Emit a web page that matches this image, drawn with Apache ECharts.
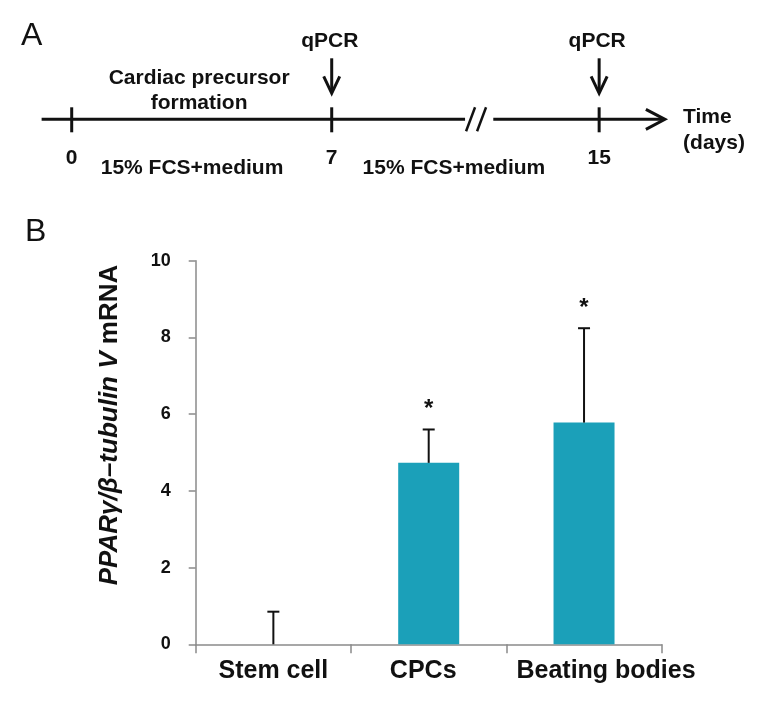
<!DOCTYPE html>
<html>
<head>
<meta charset="utf-8">
<script src="https://cdn.jsdelivr.net/npm/echarts@6/dist/echarts.min.js"></script>
<style>
html,body{margin:0;padding:0;background:#fff;}
#chart{width:771px;height:718px;}
</style>
</head>
<body>
<div id="chart"></div>
<script>
// ---- Panel B data ----
const categories = ['Stem cell', 'CPCs', 'Beating bodies'];
const means = [0, 4.73, 5.78];
const errors = [0.85, 0.87, 2.46];
const significance = ['', '*', '*'];
const yMin = 0, yMax = 10, yInterval = 2;

// ---- Panel A (timeline schematic) data ----
const timeLabels = ['0', '7', '15'];
const timePositions = [0, 7, 14.2];      // schematic position on the (broken) time axis
const qpcrMarks = [false, true, true];
const phaseTopLabels = ['Cardiac precursor\nformation'];
const phaseBottomLabels = ['15% FCS+medium', '15% FCS+medium'];

const FONT = 'Liberation Sans, Arial, sans-serif';
const chart = echarts.init(document.getElementById('chart'), null, {renderer: 'canvas'});

// label shifts (style only) for the category labels, as in the original figure
const labelPadding = [[0, 0, 0, 0], [0, 11, 0, 0], [0, 0, 0, 44]];

function timelineRender(params, api) {
  const y0 = api.coord([0, 0])[1];
  const X = v => api.coord([v, 0])[0];
  const lw = 3;
  const black = '#111';
  const F = 'bold 21px ' + FONT;
  const children = [];
  const start = X(-0.81), brk1 = X(10.59), brk2 = X(11.35), tip = X(15.97);
  children.push({type:'line', shape:{x1:start, y1:y0, x2:brk1, y2:y0}, style:{stroke:black, lineWidth:lw}});
  children.push({type:'line', shape:{x1:brk2, y1:y0, x2:tip - 2, y2:y0}, style:{stroke:black, lineWidth:lw}});
  children.push({type:'line', shape:{x1:brk1 + 1, y1:y0 + 12, x2:brk1 + 10, y2:y0 - 12}, style:{stroke:black, lineWidth:2.5}});
  children.push({type:'line', shape:{x1:brk1 + 12, y1:y0 + 12, x2:brk1 + 21, y2:y0 - 12}, style:{stroke:black, lineWidth:2.5}});
  children.push({type:'polyline', shape:{points:[[tip - 19, y0 - 10], [tip, y0], [tip - 19, y0 + 10]]}, style:{stroke:black, lineWidth:lw, fill:null}});
  for (let i = 0; i < timePositions.length; i++) {
    const x = X(timePositions[i]);
    children.push({type:'line', shape:{x1:x, y1:y0 - 12, x2:x, y2:y0 + 13}, style:{stroke:black, lineWidth:lw}});
    children.push({type:'text', x:x, y:y0 + 39, style:{text:timeLabels[i], font:F, fill:black, align:'center', verticalAlign:'middle'}});
    if (qpcrMarks[i]) {
      children.push({type:'text', x:x - 2, y:y0 - 78, style:{text:'qPCR', font:F, fill:black, align:'center', verticalAlign:'middle'}});
      children.push({type:'line', shape:{x1:x, y1:y0 - 61, x2:x, y2:y0 - 27}, style:{stroke:black, lineWidth:lw}});
      children.push({type:'polyline', shape:{points:[[x - 8, y0 - 43], [x, y0 - 26], [x + 8, y0 - 43]]}, style:{stroke:black, lineWidth:lw, fill:null}});
    }
  }
  children.push({type:'text', x:X(3.43), y:y0 - 29, style:{text:phaseTopLabels[0], font:F, lineHeight:25, fill:black, align:'center', verticalAlign:'middle'}});
  children.push({type:'text', x:X(3.24), y:y0 + 49, style:{text:phaseBottomLabels[0], font:F, fill:black, align:'center', verticalAlign:'middle'}});
  children.push({type:'text', x:X(10.29), y:y0 + 49, style:{text:phaseBottomLabels[1], font:F, fill:black, align:'center', verticalAlign:'middle'}});
  children.push({type:'text', x:X(16.46), y:y0 - 2, style:{text:'Time', font:F, fill:black, align:'left', verticalAlign:'middle'}});
  children.push({type:'text', x:X(16.46), y:y0 + 24, style:{text:'(days)', font:F, fill:black, align:'left', verticalAlign:'middle'}});
  return {type:'group', children};
}

function errorRender(params, api) {
  const i = api.value(0);
  const m = api.value(1);
  const e = api.value(2);
  const base = api.coord([i, m]);
  const top = api.coord([i, m + e]);
  const sig = significance[params.dataIndex];
  const children = [
    {type:'line', shape:{x1:base[0], y1:base[1], x2:top[0], y2:top[1]}, style:{stroke:'#111', lineWidth:2}},
    {type:'line', shape:{x1:top[0] - 6, y1:top[1], x2:top[0] + 6, y2:top[1]}, style:{stroke:'#111', lineWidth:2}}
  ];
  if (sig) {
    children.push({type:'text', x:top[0], y:top[1] - 20, style:{text:sig, font:'bold 24px ' + FONT, fill:'#111', align:'center', verticalAlign:'middle'}});
  }
  return {type:'group', children};
}

const option = {
  animation: false,
  backgroundColor: '#fff',
  textStyle: {fontFamily: FONT},
  grid: [
    {left: 195.7, right: 109.3, top: 260.7, bottom: 73.7},
    {left: 34.56, right: 105, top: 40, height: 158.6}
  ],
  xAxis: [
    {
      type: 'category', gridIndex: 0,
      data: categories.map((c, i) => ({value: c, textStyle: {padding: labelPadding[i]}})),
      axisLine: {lineStyle: {color: '#8a8a8a', width: 1.5}},
      axisTick: {show: true, length: 9, lineStyle: {color: '#8a8a8a', width: 1.5}},
      axisLabel: {interval: 0, color: '#111', fontWeight: 'bold', fontSize: 25, fontFamily: FONT, margin: 14}
    },
    {type: 'value', gridIndex: 1, min: -1, max: 16, show: false}
  ],
  yAxis: [
    {
      type: 'value', gridIndex: 0, min: yMin, max: yMax, interval: yInterval,
      splitLine: {show: false},
      axisLine: {show: true, lineStyle: {color: '#8a8a8a', width: 1.5}},
      axisTick: {show: true, length: 7, lineStyle: {color: '#8a8a8a', width: 1.5}},
      axisLabel: {color: '#111', fontWeight: 'bold', fontSize: 18, fontFamily: FONT, margin: 25}
    },
    {type: 'value', gridIndex: 1, min: -1, max: 1, show: false}
  ],
  series: [
    {
      type: 'bar', xAxisIndex: 0, yAxisIndex: 0, data: means,
      barWidth: 61, itemStyle: {color: '#1ba0b9'}
    },
    {
      type: 'custom', xAxisIndex: 0, yAxisIndex: 0,
      data: categories.map((c, i) => [i, means[i], errors[i]]),
      renderItem: errorRender, z: 5
    },
    {
      type: 'custom', xAxisIndex: 1, yAxisIndex: 1,
      data: [[0, 0]], renderItem: timelineRender, silent: true
    }
  ],
  graphic: [
    {type: 'text', left: 21, top: 20, style: {text: 'A', font: '32px ' + FONT, fill: '#111'}},
    {type: 'text', left: 25, top: 216, style: {text: 'B', font: '32px ' + FONT, fill: '#111'}},
    {
      type: 'text', x: 110, y: 425, rotation: Math.PI / 2,
      style: {
        text: '{i|PPARγ/β–tubulin V} mRNA',
        font: 'bold 26px ' + FONT, fill: '#111', align: 'center', verticalAlign: 'middle',
        rich: {i: {font: 'italic bold 26px ' + FONT, fill: '#111'}}
      }
    }
  ]
};
chart.setOption(option);
</script>
</body>
</html>
